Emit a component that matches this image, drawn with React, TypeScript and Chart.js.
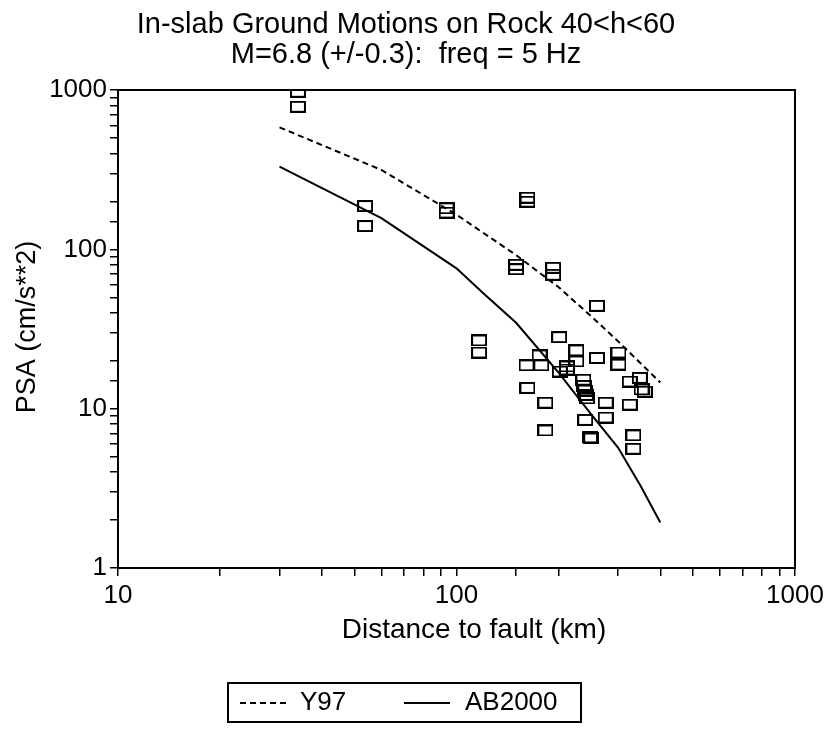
import React, { useEffect, useRef } from "react";
import { Chart, registerables } from "chart.js";

Chart.register(...registerables);

// ---- data ----
const distanceKm = [
  34, 34, 53.7, 53.7, 93.5, 93.5, 116.6, 116.6, 150, 150,
  162, 162, 193, 193, 260, 201, 176, 161, 178, 226,
  226, 260, 301, 301, 202, 212, 212, 162, 183, 183,
  237, 238, 240, 241, 243, 276, 276, 240, 248, 250,
  325, 348, 352, 360, 325, 333, 333,
];
const psaObserved = [
  975, 785, 187, 140, 181, 170, 26.8, 22.5, 80, 75,
  211, 199, 76.6, 69.2, 44.2, 28.1, 21.6, 18.7, 18.7, 23.2,
  19.8, 20.8, 22.5, 18.9, 17.1, 18.4, 17.6, 13.5, 10.9, 7.3,
  15.2, 13.9, 13.0, 12.2, 11.6, 10.9, 8.8, 8.5, 6.6, 6.5,
  14.8, 15.6, 13.2, 12.8, 10.6, 6.8, 5.6,
];
const y97Distance = [30, 60, 100, 150, 200, 250, 300, 400];
const y97Psa = [583, 315, 165, 92, 58, 38, 26.5, 14.6];
const ab2000Distance = [30, 60, 100, 120, 150, 200, 250, 300, 350, 400];
const ab2000Psa = [330, 157, 76, 53, 34.6, 16.9, 9.2, 5.7, 3.27, 1.93];

const xTickLabels = [10, 100, 1000];
const yTickLabels = [1, 10, 100, 1000];
const titleLines = [
  "In-slab Ground Motions on Rock 40<h<60",
  "M=6.8 (+/-0.3):  freq = 5 Hz",
];
const xAxisTitle = "Distance to fault (km)";
const yAxisTitle = "PSA (cm/s**2)";
const legendLabels = ["Y97", "AB2000"];

const FONT = "'Liberation Sans', Arial, Helvetica, sans-serif";
const W = 833;
const H = 738;

function makeRectMarker(): HTMLCanvasElement {
  const c = document.createElement("canvas");
  c.width = 16;
  c.height = 12;
  const ctx = c.getContext("2d")!;
  ctx.strokeStyle = "#000";
  ctx.lineWidth = 2;
  ctx.strokeRect(1, 1, 14, 10);
  return c;
}

const decorPlugin = {
  id: "decor",
  afterDraw(chart: any) {
    const { ctx, chartArea } = chart;
    const { left, top, right, bottom } = chartArea;
    ctx.save();
    // frame
    ctx.strokeStyle = "#000";
    ctx.lineWidth = 2;
    ctx.setLineDash([]);
    ctx.strokeRect(left, top, right - left, bottom - top);

    ctx.fillStyle = "#000";
    // title
    ctx.font = `29px ${FONT}`;
    ctx.textAlign = "center";
    ctx.textBaseline = "alphabetic";
    ctx.fillText(titleLines[0], 406, 33);
    ctx.fillText(titleLines[1], 406, 63);

    // axis titles
    ctx.font = `28px ${FONT}`;
    ctx.fillText(xAxisTitle, 474, 638);
    ctx.save();
    ctx.translate(28, 327);
    ctx.rotate(-Math.PI / 2);
    ctx.textBaseline = "middle";
    ctx.font = `27px ${FONT}`;
    ctx.fillText(yAxisTitle, 0, 0);
    ctx.restore();

    // legend
    const ly = 703;
    ctx.lineWidth = 2;
    ctx.strokeRect(228, 683, 353, 39);
    ctx.beginPath();
    ctx.setLineDash([6, 4]);
    ctx.moveTo(240, ly);
    ctx.lineTo(287, ly);
    ctx.stroke();
    ctx.setLineDash([]);
    ctx.beginPath();
    ctx.moveTo(404, ly);
    ctx.lineTo(450, ly);
    ctx.stroke();
    ctx.font = `26px ${FONT}`;
    ctx.textAlign = "left";
    ctx.textBaseline = "middle";
    ctx.fillText(legendLabels[0], 300, ly);
    ctx.fillText(legendLabels[1], 465, ly);
    ctx.restore();
  },
};

const isDecade = (v: number) =>
  Math.abs(Math.log10(v) - Math.round(Math.log10(v))) < 1e-9;

export default function App() {
  const ref = useRef<HTMLCanvasElement | null>(null);

  useEffect(() => {
    document.body.style.margin = "0";
    const canvas = ref.current!;
    const marker = makeRectMarker();
    const chart = new Chart(canvas, {
      type: "scatter",
      data: {
        datasets: [
          {
            label: "Observed",
            data: distanceKm.map((d, i) => ({ x: d, y: psaObserved[i] })),
            pointStyle: marker as any,
            pointRadius: 8,
            showLine: false,
          },
          {
            label: legendLabels[0],
            data: y97Distance.map((d, i) => ({ x: d, y: y97Psa[i] })),
            showLine: true,
            borderColor: "#000",
            borderWidth: 2,
            borderDash: [6, 4],
            pointRadius: 0,
            tension: 0,
          },
          {
            label: legendLabels[1],
            data: ab2000Distance.map((d, i) => ({ x: d, y: ab2000Psa[i] })),
            showLine: true,
            borderColor: "#000",
            borderWidth: 2,
            pointRadius: 0,
            tension: 0,
          },
        ],
      },
      options: {
        animation: false,
        responsive: false,
        devicePixelRatio: 1,
        layout: { padding: { left: 0, top: 90, right: 38, bottom: 0 } },
        plugins: {
          legend: { display: false },
          title: { display: false },
          tooltip: { enabled: false },
        },
        scales: {
          x: {
            type: "logarithmic",
            position: "bottom",
            min: 10,
            max: 1000,
            afterFit: (s: any) => {
              s.height = 170;
            },
            grid: {
              display: true,
              drawOnChartArea: false,
              drawTicks: true,
              tickLength: 8,
              color: "#000",
              lineWidth: 1.5,
            },
            border: { display: true, color: "#000", width: 2 },
            ticks: {
              autoSkip: false,
              maxRotation: 0,
              padding: 4,
              color: "#000",
              font: { family: FONT, size: 26 },
              callback: (v: any) =>
                isDecade(Number(v)) && xTickLabels.includes(Math.round(Number(v)))
                  ? String(Math.round(Number(v)))
                  : "",
            },
          },
          y: {
            type: "logarithmic",
            position: "left",
            min: 1,
            max: 1000,
            afterFit: (s: any) => {
              s.width = 118;
            },
            grid: {
              display: true,
              drawOnChartArea: false,
              drawTicks: true,
              tickLength: 8,
              color: "#000",
              lineWidth: 1.5,
            },
            border: { display: true, color: "#000", width: 2 },
            ticks: {
              autoSkip: false,
              padding: 3,
              color: "#000",
              font: { family: FONT, size: 26 },
              callback: (v: any) =>
                isDecade(Number(v)) && yTickLabels.includes(Math.round(Number(v)))
                  ? String(Math.round(Number(v)))
                  : "",
            },
          },
        },
      },
      plugins: [decorPlugin],
    } as any);
    return () => chart.destroy();
  }, []);

  return (
    <div style={{ width: W, height: H, background: "#fff" }}>
      <canvas ref={ref} width={W} height={H} style={{ display: "block" }} />
    </div>
  );
}
